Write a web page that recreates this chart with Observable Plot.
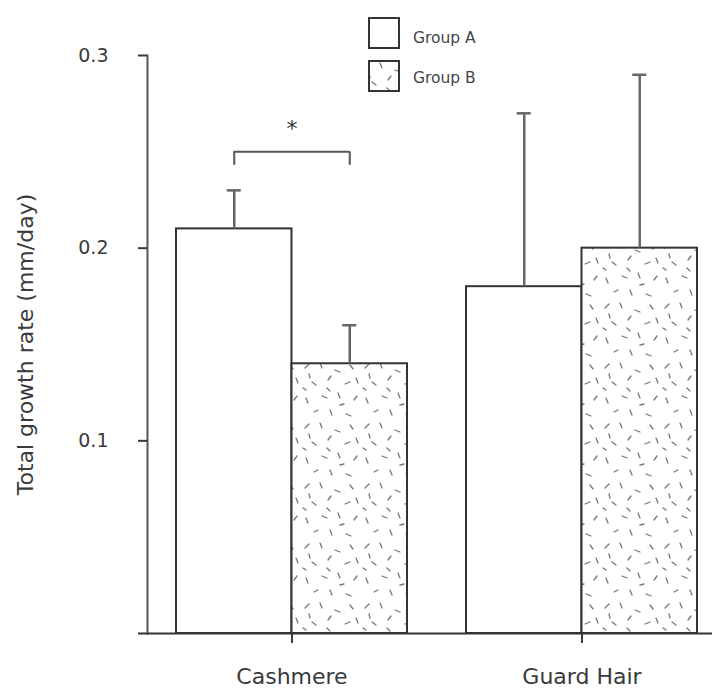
<!DOCTYPE html>
<html><head><meta charset="utf-8">
<script src="https://cdn.jsdelivr.net/npm/d3@7"></script>
<script src="https://cdn.jsdelivr.net/npm/@observablehq/plot@0.6"></script>
<style>
body{margin:0;background:#fff}
#wrap{position:relative;width:715px;height:688px}
#legend{position:absolute;left:0;top:0}
</style>
</head><body><div id="wrap"></div>
<script>
// ---- data ----
const categories = ["Cashmere", "Guard Hair"];
const groups = ["Group A", "Group B"];
const groupA = [0.21, 0.18];
const groupAErr = [0.02, 0.09];
const groupB = [0.14, 0.20];
const groupBErr = [0.02, 0.09];
const yTicks = [0.1, 0.2, 0.3];
const yLabel = "Total growth rate (mm/day)";
const sigCategory = "Cashmere";
const sigY = 0.25;
const sigLegEnd = 0.243;
const sigLabel = "*";
const sigLabelY = 0.262;

const rowsA = categories.map((c, i) => ({category: c, value: groupA[i], top: groupA[i] + groupAErr[i]}));
const rowsB = categories.map((c, i) => ({category: c, value: groupB[i], top: groupB[i] + groupBErr[i]}));
const sig = [{category: sigCategory, y: sigY, leg: sigLegEnd, label: sigLabel, labelY: sigLabelY}];

// ---- layout ----
const W = 715, H = 688, mL = 147, mR = 0, mT = 55, mB = 55;
const pInner = 0.2034, pOuter = 0.081, align = 0.617;
const step = (W - mL - mR) / (categories.length - pInner + 2 * pOuter);
const bw = step * (1 - pInner);
const q = bw / 4, cap = 7;
const ink = "#333", errInk = "#666";

const chart = Plot.plot({
  width: W, height: H,
  marginLeft: mL, marginRight: mR, marginTop: mT, marginBottom: mB,
  style: {fontFamily: "DejaVu Sans", color: "#3a3a3a", background: "#fff"},
  x: {domain: categories, paddingInner: pInner, paddingOuter: pOuter, align},
  y: {domain: [0, 0.3]},
  marks: [
    Plot.frame({anchor: "left", stroke: "#555", strokeWidth: 2}),
    Plot.axisY({ticks: yTicks, tickFormat: d3.format(".1f"), tickSize: 9, tickPadding: 30, fontSize: 19, strokeWidth: 2, label: null}),
    Plot.axisY({ticks: [], label: yLabel, labelAnchor: "center", labelArrow: false, labelOffset: 130, fontSize: 22}),
    Plot.axisX({tickSize: 10, tickPadding: 25, fontSize: 22, strokeWidth: 2, label: null}),
    Plot.barY(rowsA, {x: "category", y: "value", insetRight: bw / 2, fill: "white", stroke: ink, strokeWidth: 2}),
    Plot.barY(rowsB, {x: "category", y: "value", insetLeft: bw / 2, fill: "url(#speckle)", stroke: ink, strokeWidth: 2}),
    Plot.ruleX(rowsA, {x: "category", y1: "value", y2: "top", dx: -q, stroke: errInk, strokeWidth: 2.5}),
    Plot.ruleX(rowsB, {x: "category", y1: "value", y2: "top", dx: q, stroke: errInk, strokeWidth: 2.5}),
    Plot.tickY(rowsA, {x: "category", y: "top", insetLeft: q - cap, insetRight: 3 * q - cap, stroke: errInk, strokeWidth: 2.5}),
    Plot.tickY(rowsB, {x: "category", y: "top", insetLeft: 3 * q - cap, insetRight: q - cap, stroke: errInk, strokeWidth: 2.5}),
    Plot.tickY(sig, {x: "category", y: "y", insetLeft: q, insetRight: q, stroke: "#555", strokeWidth: 2}),
    Plot.ruleX(sig, {x: "category", y1: "y", y2: "leg", dx: -q, stroke: "#555", strokeWidth: 2}),
    Plot.ruleX(sig, {x: "category", y1: "y", y2: "leg", dx: q, stroke: "#555", strokeWidth: 2}),
    Plot.text(sig, {x: "category", y: "labelY", text: "label", fontSize: 22, fill: "#333"}),
    Plot.ruleY([0], {insetLeft: -9, insetRight: 3, stroke: ink, strokeWidth: 2})
  ]
});

// speckle texture
const dashes = [[5,8,9,4],[20,3,22,8],[35,10,40,12],[50,5,53,9],[12,22,16,25],[28,20,31,16],[45,24,50,22],[6,38,8,43],[22,36,27,38],[38,33,40,38],[54,40,57,36],[14,52,18,50],[30,50,32,55],[46,54,51,56],[3,28,6,30],[56,18,58,23],[27,28,30,31],[40,45,44,44],[9,14,10,18]];
const defs = d3.select(chart).insert("defs", ":first-child");
const pat = defs.append("pattern").attr("id", "speckle").attr("patternUnits", "userSpaceOnUse")
  .attr("width", 60).attr("height", 60);
pat.append("rect").attr("width", 60).attr("height", 60).attr("fill", "white");
pat.selectAll("line").data(dashes).join("line")
  .attr("x1", d => d[0]).attr("y1", d => d[1]).attr("x2", d => d[2]).attr("y2", d => d[3])
  .attr("stroke", "#777").attr("stroke-width", 1.3).attr("stroke-linecap", "round");

const wrap = document.getElementById("wrap");
wrap.appendChild(chart);

// legend overlay
const leg = d3.select(wrap).append("svg").attr("id", "legend").attr("width", W).attr("height", 100);
const fills = ["white", "url(#speckle)"];
groups.forEach((g, i) => {
  leg.append("rect").attr("x", 369).attr("y", 18 + i * 43).attr("width", 30).attr("height", 30)
    .attr("fill", fills[i]).attr("stroke", ink).attr("stroke-width", 2);
  leg.append("text").attr("x", 413).attr("y", 38 + i * 40).attr("dy", "0.35em")
    .attr("font-family", "DejaVu Sans").attr("font-size", 15.5).attr("fill", "#444").text(g);
});
</script>
</body></html>
